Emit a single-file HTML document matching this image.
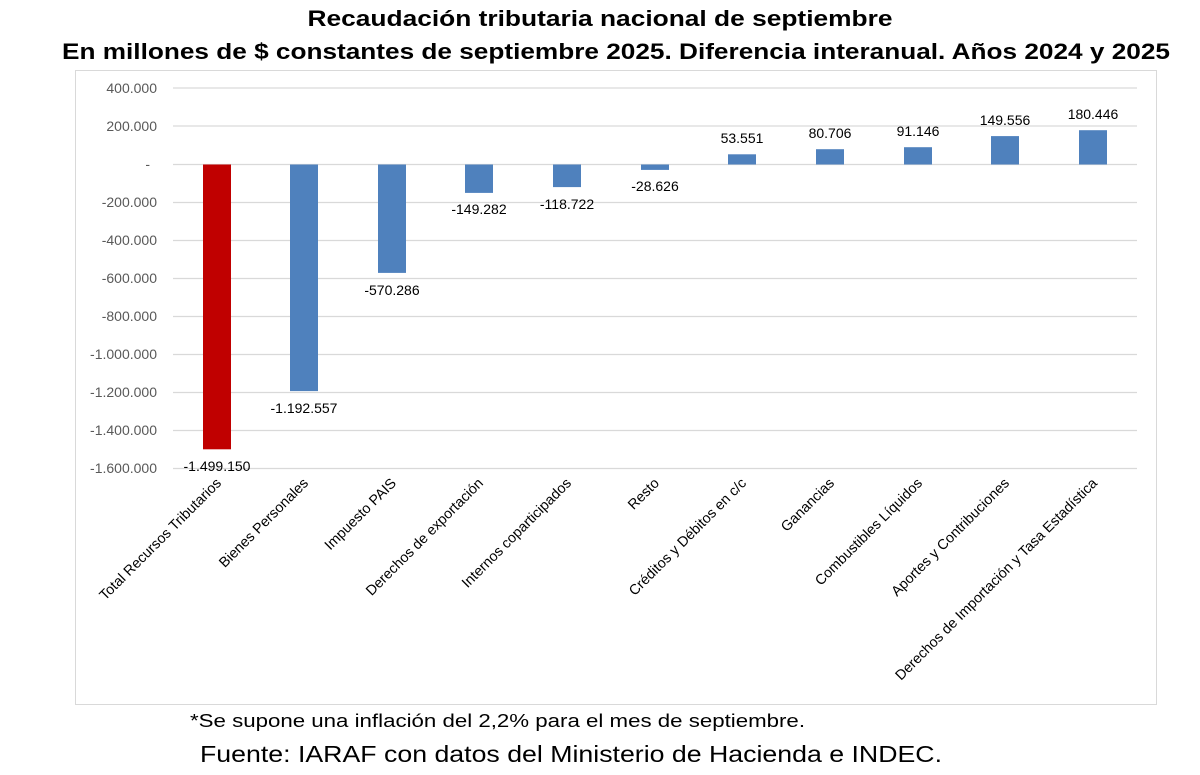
<!DOCTYPE html>
<html><head><meta charset="utf-8"><style>
html,body{margin:0;padding:0;background:#fff;width:1200px;height:775px;overflow:hidden}
</style></head><body>
<svg width="1200" height="775" xmlns="http://www.w3.org/2000/svg" font-family="Liberation Sans, Arial, sans-serif">
<text x="600" y="26" text-anchor="middle" font-size="22" font-weight="bold" fill="#000" textLength="585" lengthAdjust="spacingAndGlyphs">Recaudación tributaria nacional de septiembre</text>
<text x="616" y="59" text-anchor="middle" font-size="22" font-weight="bold" fill="#000" textLength="1108" lengthAdjust="spacingAndGlyphs">En millones de $ constantes de septiembre 2025. Diferencia interanual. Años 2024 y 2025</text>
<rect x="75.5" y="70.5" width="1081" height="634" fill="#fff" stroke="#d9d9d9" stroke-width="1"/>
<g stroke="#d9d9d9" stroke-width="1.2">
<line x1="173" x2="1137" y1="88" y2="88"/><line x1="173" x2="1137" y1="126" y2="126"/><line x1="173" x2="1137" y1="164.5" y2="164.5"/><line x1="173" x2="1137" y1="202.5" y2="202.5"/><line x1="173" x2="1137" y1="240.5" y2="240.5"/><line x1="173" x2="1137" y1="278.5" y2="278.5"/><line x1="173" x2="1137" y1="316.5" y2="316.5"/><line x1="173" x2="1137" y1="354.5" y2="354.5"/><line x1="173" x2="1137" y1="392.5" y2="392.5"/><line x1="173" x2="1137" y1="430.5" y2="430.5"/><line x1="173" x2="1137" y1="468.5" y2="468.5"/>
</g>
<g font-size="14" fill="#595959" text-anchor="end">
<text x="157" y="93">400.000</text><text x="157" y="131">200.000</text><text x="150" y="169">-</text><text x="157" y="207">-200.000</text><text x="157" y="245">-400.000</text><text x="157" y="283">-600.000</text><text x="157" y="321">-800.000</text><text x="157" y="359">-1.000.000</text><text x="157" y="397">-1.200.000</text><text x="157" y="435">-1.400.000</text><text x="157" y="473">-1.600.000</text>
</g>
<rect x="203" y="164.5" width="28" height="284.8" fill="#c00000"/>
<g fill="#4f81bd">
<rect x="290" y="164.5" width="28" height="226.6"/>
<rect x="378" y="164.5" width="28" height="108.4"/>
<rect x="465" y="164.5" width="28" height="28.4"/>
<rect x="553" y="164.5" width="28" height="22.6"/>
<rect x="641" y="164.5" width="28" height="5.4"/>
<rect x="728" y="154.3" width="28" height="10.2"/>
<rect x="816" y="149.2" width="28" height="15.3"/>
<rect x="904" y="147.2" width="28" height="17.3"/>
<rect x="991" y="136.1" width="28" height="28.4"/>
<rect x="1079" y="130.2" width="28" height="34.3"/>
</g>
<g font-size="14" fill="#000" text-anchor="middle">
<text x="217" y="471">-1.499.150</text>
<text x="304" y="413">-1.192.557</text>
<text x="392" y="295">-570.286</text>
<text x="479" y="214">-149.282</text>
<text x="567" y="209">-118.722</text>
<text x="655" y="191">-28.626</text>
<text x="742" y="143">53.551</text>
<text x="830" y="138">80.706</text>
<text x="918" y="136">91.146</text>
<text x="1005" y="125">149.556</text>
<text x="1093" y="119">180.446</text>
</g>
<g font-size="14.3" fill="#000" text-anchor="end">
<text transform="translate(222,484) rotate(-45)">Total Recursos Tributarios</text>
<text transform="translate(309,484) rotate(-45)">Bienes Personales</text>
<text transform="translate(397,484) rotate(-45)">Impuesto PAIS</text>
<text transform="translate(484,484) rotate(-45)">Derechos de exportación</text>
<text transform="translate(572,484) rotate(-45)">Internos coparticipados</text>
<text transform="translate(660,484) rotate(-45)">Resto</text>
<text transform="translate(747,484) rotate(-45)">Créditos y Débitos en c/c</text>
<text transform="translate(835,484) rotate(-45)">Ganancias</text>
<text transform="translate(923,484) rotate(-45)">Combustibles Líquidos</text>
<text transform="translate(1010,484) rotate(-45)">Aportes y Contribuciones</text>
<text transform="translate(1098,484) rotate(-45)">Derechos de Importación y Tasa Estadística</text>
</g>
<text x="190" y="727" font-size="18" fill="#000" textLength="615" lengthAdjust="spacingAndGlyphs">*Se supone una inflación del 2,2% para el mes de septiembre.</text>
<text x="200" y="762" font-size="23" fill="#000" textLength="742" lengthAdjust="spacingAndGlyphs">Fuente: IARAF con datos del Ministerio de Hacienda e INDEC.</text>
</svg>
</body></html>
